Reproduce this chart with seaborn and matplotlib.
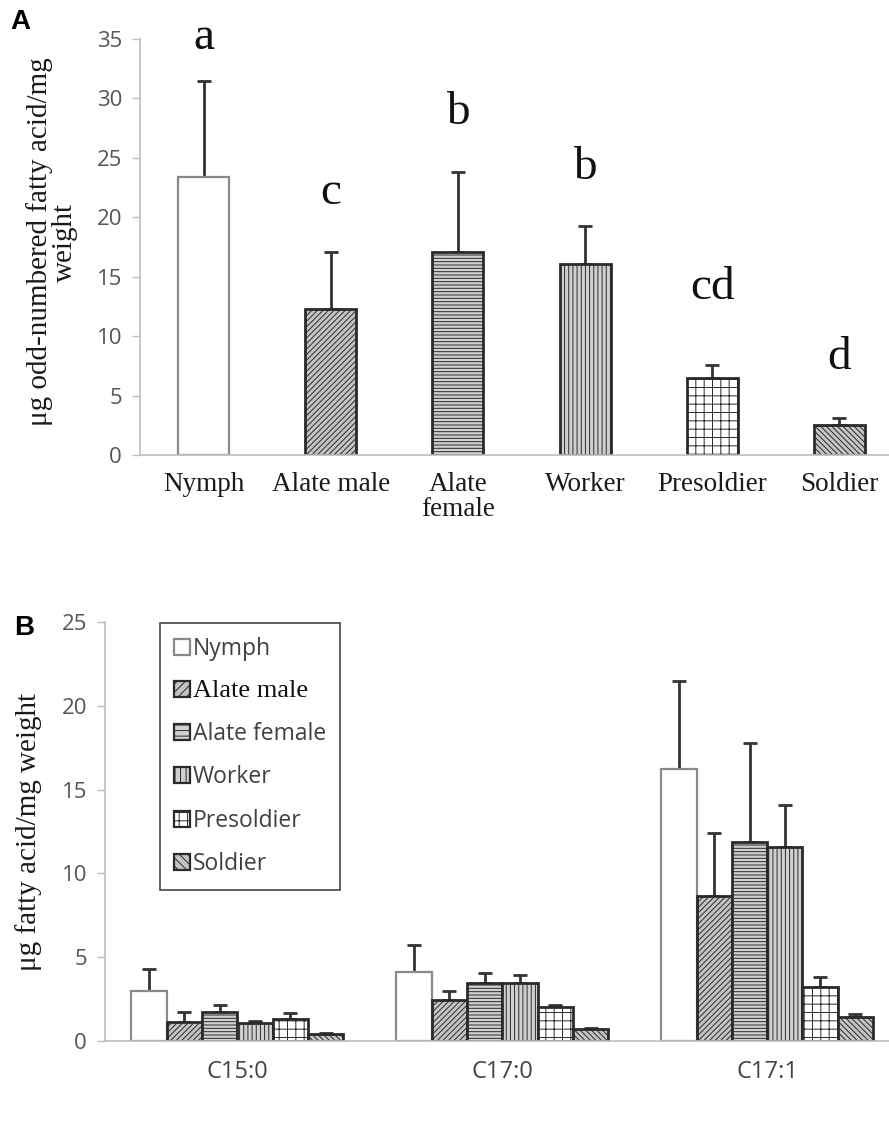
import numpy as np
import pandas as pd
import matplotlib
matplotlib.use("Agg")
import matplotlib.pyplot as plt
import seaborn as sns
from matplotlib.patches import Patch

# ---------------- data ----------------
castes = ["Nymph", "Alate male", "Alate female", "Worker", "Presoldier", "Soldier"]
castes_tick_A = ["Nymph", "Alate male", "Alate\nfemale", "Worker", "Presoldier", "Soldier"]
total_mean = [23.4, 12.3, 17.1, 16.1, 6.5, 2.5]
total_err = [8.1, 4.8, 6.7, 3.2, 1.1, 0.6]
sig_letters = ["a", "c", "b", "b", "cd", "d"]
letter_y = [35.1, 22.1, 28.8, 24.2, 14.1, 8.2]

acids = ["C15:0", "C17:0", "C17:1"]
nymph_mean = [3.0, 4.1, 16.2]
nymph_err = [1.3, 1.6, 5.3]
male_mean = [1.13, 2.45, 8.65]
male_err = [0.6, 0.53, 3.75]
female_mean = [1.73, 3.46, 11.87]
female_err = [0.42, 0.6, 5.9]
worker_mean = [1.07, 3.46, 11.57]
worker_err = [0.13, 0.48, 2.5]
presoldier_mean = [1.3, 2.03, 3.22]
presoldier_err = [0.37, 0.12, 0.6]
soldier_mean = [0.4, 0.72, 1.43]
soldier_err = [0.1, 0.06, 0.17]

yticks_A = [0, 5, 10, 15, 20, 25, 30, 35]
yticks_B = [0, 5, 10, 15, 20, 25]

# ---------------- style ----------------
sns.set_theme(style="white")
plt.rcParams["font.family"] = ["DejaVu Sans"]
plt.rcParams["hatch.linewidth"] = 0.7

face = {"Nymph": "white", "Alate male": "#c4c4c4", "Alate female": "#d0d0d0",
        "Worker": "#d0d0d0", "Presoldier": "white", "Soldier": "#c4c4c4"}
hatchA = {"Nymph": "", "Alate male": "//////", "Alate female": "-----",
          "Worker": "||||", "Presoldier": "++", "Soldier": "\\\\\\\\\\\\"}
hatchB = dict(hatchA)
hatchLeg = {"Nymph": "", "Alate male": "////", "Alate female": "---",
            "Worker": "|||", "Presoldier": "++", "Soldier": "\\\\\\\\"}
edge = {c: "#2a2a2a" for c in castes}
edge["Nymph"] = "#8a8a8a"

axis_gray = "#bdbdbd"
tick_gray = "#555555"
err_color = "#333333"
serif = "Liberation Serif"
sans = "Open Sans"

fig = plt.figure(figsize=(8.89, 11.31), dpi=100)

# ---------------- Panel A ----------------
axA = fig.add_axes([140 / 889, 1 - 455 / 1131, 1 - 140 / 889, (455 - 39) / 1131])
dfA = pd.DataFrame({"caste": castes, "value": total_mean})
sns.barplot(data=dfA, x="caste", y="value", hue="caste", order=castes, hue_order=castes,
            palette=face, width=0.4, legend=False, ax=axA, errorbar=None, saturation=1)
for cont, c in zip(axA.containers, castes):
    for bar in cont:
        bar.set_hatch(hatchA[c])
        bar.set_edgecolor(edge[c])
        bar.set_linewidth(2.0 if c != "Nymph" else 1.6)
        cx = bar.get_x() + bar.get_width() / 2
        i = castes.index(c)
        axA.errorbar(cx, bar.get_height(), yerr=[[0], [total_err[i]]], fmt="none",
                     ecolor=err_color, elinewidth=2, capsize=5, capthick=2, zorder=1)
        bar.set_zorder(2)
for i, (lab, ly) in enumerate(zip(sig_letters, letter_y)):
    axA.text(i, ly, lab, ha="center", va="center", fontsize=34, family=serif,
             color="#111111", clip_on=False)

axA.set_ylim(0, 35)
axA.set_xlim(-0.5, 5.39)
axA.set_yticks(yticks_A)
axA.set_yticklabels([str(v) for v in yticks_A], family=sans, fontsize=16, color=tick_gray)
axA.set_xticks(range(len(castes)))
axA.set_xticklabels(castes_tick_A, family=serif, fontsize=19.5, color="#1a1a1a",
                    linespacing=1.0)
axA.set_xticks([0.5, 1.5, 2.5, 3.5, 4.5], minor=True)
axA.tick_params(axis="x", which="major", length=0, pad=12)
axA.tick_params(axis="x", which="minor", length=6, color=axis_gray, width=1)
axA.tick_params(axis="y", length=6, color=axis_gray, width=1, pad=7, left=True)
axA.set_xlabel("")
axA.set_ylabel("")
for s in ["top", "right"]:
    axA.spines[s].set_visible(False)
for s in ["left", "bottom"]:
    axA.spines[s].set_color(axis_gray)
    axA.spines[s].set_linewidth(1.2)

fig.text(52 / 889, 1 - 242 / 1131, "μg odd-numbered fatty acid/mg\nweight", rotation=90,
         ha="center", va="center", family=serif, fontsize=21, color="#1a1a1a",
         multialignment="center", linespacing=0.95)
fig.text(10 / 889, 1 - 22 / 1131, "A", ha="left", va="center", family="Liberation Sans",
         fontsize=20, fontweight="bold", color="black")

# ---------------- Panel B ----------------
axB = fig.add_axes([105 / 889, 1 - 1041 / 1131, 1 - 105 / 889, (1041 - 622) / 1131])
means = {"Nymph": nymph_mean, "Alate male": male_mean, "Alate female": female_mean,
         "Worker": worker_mean, "Presoldier": presoldier_mean, "Soldier": soldier_mean}
errs = {"Nymph": nymph_err, "Alate male": male_err, "Alate female": female_err,
        "Worker": worker_err, "Presoldier": presoldier_err, "Soldier": soldier_err}
rows = []
for c in castes:
    for a, v in zip(acids, means[c]):
        rows.append({"acid": a, "caste": c, "value": v})
dfB = pd.DataFrame(rows)
sns.barplot(data=dfB, x="acid", y="value", hue="caste", order=acids, hue_order=castes,
            palette=face, width=0.8, ax=axB, errorbar=None, saturation=1, legend=False)
for cont, c in zip(axB.containers, castes):
    for j, bar in enumerate(cont):
        bar.set_hatch(hatchB[c])
        bar.set_edgecolor(edge[c])
        bar.set_linewidth(2.0 if c != "Nymph" else 1.6)
        bar.set_zorder(2)
        cx = bar.get_x() + bar.get_width() / 2
        axB.errorbar(cx, bar.get_height(), yerr=[[0], [errs[c][j]]], fmt="none",
                     ecolor=err_color, elinewidth=2, capsize=5, capthick=2, zorder=1)

axB.set_ylim(0, 25)
axB.set_xlim(-0.5, 2.46)
axB.set_yticks(yticks_B)
axB.set_yticklabels([str(v) for v in yticks_B], family=sans, fontsize=16, color=tick_gray)
axB.set_xticks(range(len(acids)))
axB.set_xticklabels(acids, family=sans, fontsize=17, color="#444444")
axB.set_xticks([0.5, 1.5], minor=True)
axB.tick_params(axis="x", which="major", length=0, pad=14)
axB.tick_params(axis="x", which="minor", length=6, color=axis_gray, width=1)
axB.tick_params(axis="y", length=6, color=axis_gray, width=1, pad=7, left=True)
axB.set_xlabel("")
axB.set_ylabel("")
for s in ["top", "right"]:
    axB.spines[s].set_visible(False)
for s in ["left", "bottom"]:
    axB.spines[s].set_color(axis_gray)
    axB.spines[s].set_linewidth(1.2)

handles = [Patch(facecolor=face[c], edgecolor=edge[c], hatch=hatchLeg[c], linewidth=1.6)
           for c in castes]
leg = axB.legend(handles, castes, loc="upper left", bbox_to_anchor=(0.07, 0.997),
                 frameon=True, fancybox=False, edgecolor="#444444", framealpha=1,
                 handlelength=0.7, handleheight=0.7, handletextpad=0.15,
                 labelspacing=0.85, borderpad=0.6, borderaxespad=0, fontsize=16.5)
leg.get_frame().set_linewidth(1.2)
for t, c in zip(leg.get_texts(), castes):
    if c == "Alate male":
        t.set_family(serif)
        t.set_fontsize(19)
        t.set_color("#111111")
    else:
        t.set_family(sans)
        t.set_color("#404040")

fig.text(29 / 889, 1 - 832 / 1131, "μg fatty acid/mg weight", rotation=90,
         ha="center", va="center", family=serif, fontsize=21, color="#1a1a1a")
fig.text(14 / 889, 1 - 628 / 1131, "B", ha="left", va="center", family="Liberation Sans",
         fontsize=20, fontweight="bold", color="black")

fig.savefig("out.png", dpi=100)
